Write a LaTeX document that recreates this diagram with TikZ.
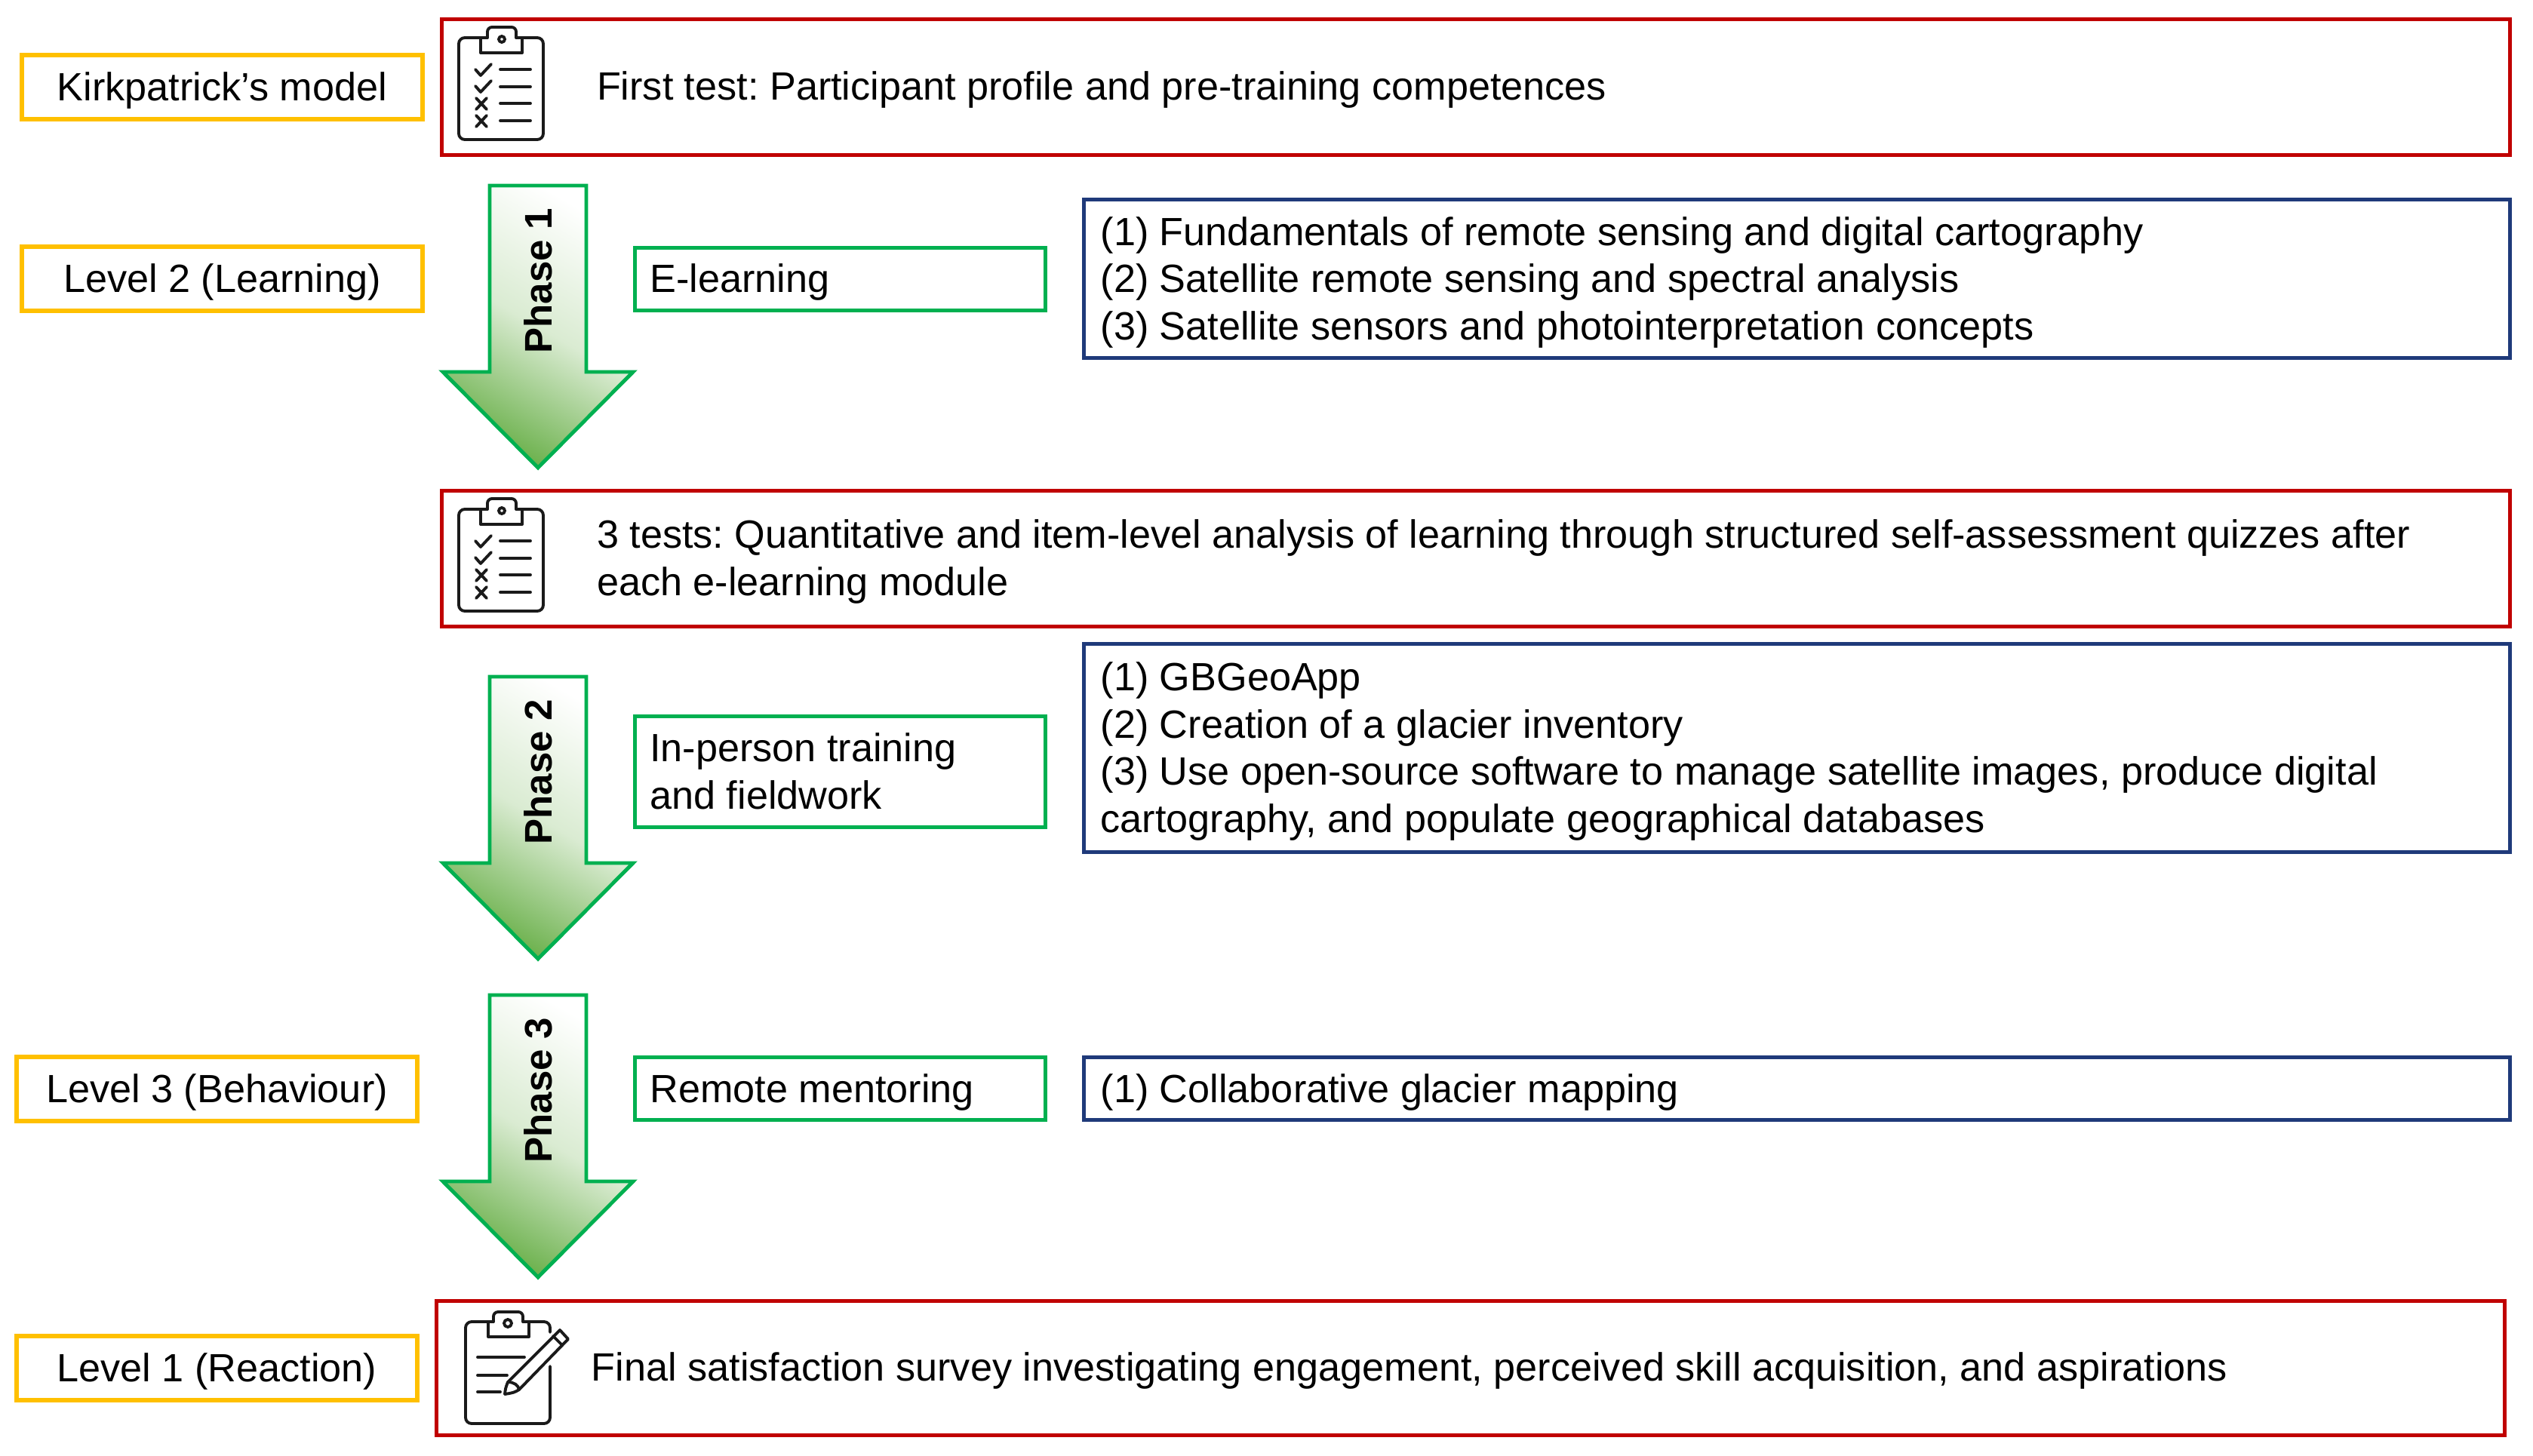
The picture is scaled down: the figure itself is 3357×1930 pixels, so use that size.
\documentclass[tikz,border=0pt]{standalone}
\usepackage{fontspec}
\setmainfont{Liberation Sans}
\usepackage{xcolor}
\usetikzlibrary{positioning,calc}
\definecolor{kpYellow}{HTML}{FFC000}
\definecolor{kpRed}{HTML}{C00000}
\definecolor{kpBlue}{HTML}{1F3A7A}
\definecolor{kpGreen}{HTML}{00B050}
\definecolor{kpShade}{HTML}{6AB04A}
\definecolor{kpIcon}{HTML}{1A1A1A}
\newcommand{\kptext}{\fontsize{14.85}{17.8}\selectfont\frenchspacing}
\tikzset{
  level/.style={rectangle, draw=kpYellow, line width=1.6pt, outer sep=0pt, align=center, text height=0.39cm, text depth=0.03cm, minimum width=5.31cm, minimum height=0.85cm, font=\kptext},
  test/.style={rectangle, draw=kpRed, line width=1.4pt, outer sep=0pt, minimum width=27.4cm, minimum height=1.8cm},
  testtext/.style={anchor=west, inner sep=0pt, align=left, text depth=0.03cm, font=\kptext},
  mode/.style={rectangle, draw=kpGreen, line width=1.4pt, outer sep=0pt, inner xsep=0.2cm, text width=5.04cm, align=flush left, text height=0.39cm, text depth=0.03cm, minimum height=0.83cm, font=\kptext},
  topics/.style={rectangle, draw=kpBlue, line width=1.4pt, outer sep=0pt, inner xsep=0.22cm, text width=18.45cm, align=flush left, text height=0.39cm, text depth=0.03cm, font=\kptext},
  phasetext/.style={rotate=90, inner sep=0pt, font=\fontsize{14.5}{17}\selectfont\bfseries},
  iconline/.style={draw=kpIcon, line width=1.1pt, line cap=round, line join=round},
  pics/checklist/.style={code={
    \draw[iconline, rounded corners=0.08cm] (29,0) -- (0,0) -- (0,135) -- (112,135) -- (112,0) -- (84,0);
    \draw[iconline, rounded corners=0.06cm] (38,0) -- (38,-14) -- (76,-14) -- (76,0);
    \draw[iconline] (38,0) -- (29,0) -- (29,20) -- (84,20) -- (84,0) -- (76,0);
    \draw[iconline] (57,2) circle (0.04cm);
    \draw[iconline] (55,42) -- (95,42) (55,65) -- (95,65) (55,87) -- (95,87) (55,110) -- (95,110);
    \draw[iconline] (22,42) -- (29,50) -- (43,35) (22,64) -- (29,72) -- (43,57);
    \draw[iconline] (23,80) -- (37,95) (37,80) -- (23,95) (23,103) -- (37,118) (37,103) -- (23,118);
  }},
  pics/survey/.style={code={
    \draw[iconline, rounded corners=0.08cm] (30,0) -- (0,0) -- (0,135) -- (112,135) -- (112,59);
    \draw[iconline, rounded corners=0.08cm] (84,0) -- (112,0) -- (112,14);
    \draw[iconline, rounded corners=0.06cm] (37,0) -- (37,-13) -- (76,-13) -- (76,0);
    \draw[iconline] (37,0) -- (30,0) -- (30,20) -- (84,20) -- (84,0) -- (76,0);
    \draw[iconline] (56,2) circle (0.05cm);
    \draw[iconline] (16,47) -- (78,47) (16,71) -- (55,71) (16,93) -- (46,93);
    \draw[iconline] (52,96) .. controls (53,88) .. (56,80) -- (125,11) -- (136,23) -- (71,90) .. controls (64,94) .. (52,96);
    \draw[iconline] (56,80) .. controls (64,80) and (70,84) .. (71,90);
    \draw[iconline] (116,19) -- (127,30);
  }},
  pics/phasearrow/.style={code={
    \draw[draw=kpGreen, line width=1.4pt, line join=miter, bottom color=kpShade, top color=white, middle color=kpShade!25!white, shading angle=-30]
      (-64,0) -- (64,0) -- (64,247) -- (126,247) -- (0,374) -- (-126,247) -- (-64,247) -- cycle;
  }}
}
\begin{document}
\begin{tikzpicture}[x=0.01cm, y=-0.01cm]
\useasboundingbox (0,0) rectangle (3357,1930);
\node[level] (kirk) at (294.5,115.5) {Kirkpatrick’s model};
\node[test, right=0.25cm of kirk] (firsttest) {};
\node[level, below=1.69cm of kirk] (level2) {Level 2 (Learning)};
\node[mode, right=2.81cm of level2] (elearn) {E-learning};
\node[topics, right=0.51cm of elearn, minimum height=2.1cm, text depth=1.28cm] (topics1) {(1) Fundamentals of remote sensing and digital cartography\\(2) Satellite remote sensing and spectral analysis\\(3) Satellite sensors and photointerpretation concepts};
\node[test, below=4.45cm of firsttest] (quiztest) {};
\node[mode, below=5.38cm of elearn, minimum height=1.47cm, text depth=0.655cm] (inperson) {In-person training\\and fieldwork};
\node[topics, below=3.79cm of topics1, minimum height=2.75cm, text depth=1.905cm] (topics2) {(1) GBGeoApp\\(2) Creation of a glacier inventory\\(3) Use open-source software to manage satellite images, produce digital\\cartography, and populate geographical databases};
\node[mode, below=3.05cm of inperson] (mentor) {Remote mentoring};
\node[topics, right=0.51cm of mentor, minimum height=0.83cm] (topics3) {(1) Collaborative glacier mapping};
\node[level, left=2.88cm of mentor] (level3) {Level 3 (Behaviour)};
\node[level, below=2.85cm of level3] (level1) {Level 1 (Reaction)};
\node[test, right=0.25cm of level1, minimum height=1.77cm] (finaltest) {};
\node[testtext] (firsttext) at ([xshift=2.05cm]firsttest.west) {First test: Participant profile and pre-training competences};
\node[testtext] (quiztext) at ([xshift=2.05cm]quiztest.west) {3 tests: Quantitative and item-level analysis of learning through structured self-assessment quizzes after\\each e-learning module};
\node[testtext] (finaltext) at ([xshift=2.05cm]finaltest.west) {Final satisfaction survey investigating engagement, perceived skill acquisition, and aspirations};
\pic at (608,50) {checklist};
\pic at (608,675) {checklist};
\pic at (617,1752) {survey};
\pic at (713,246) {phasearrow};
\pic at (713,897) {phasearrow};
\pic at (713,1319) {phasearrow};
\node[phasetext] (phase1) at (713,372) {Phase 1};
\node[phasetext] (phase2) at (713,1023) {Phase 2};
\node[phasetext] (phase3) at (713,1445) {Phase 3};
\end{tikzpicture}
\end{document}
